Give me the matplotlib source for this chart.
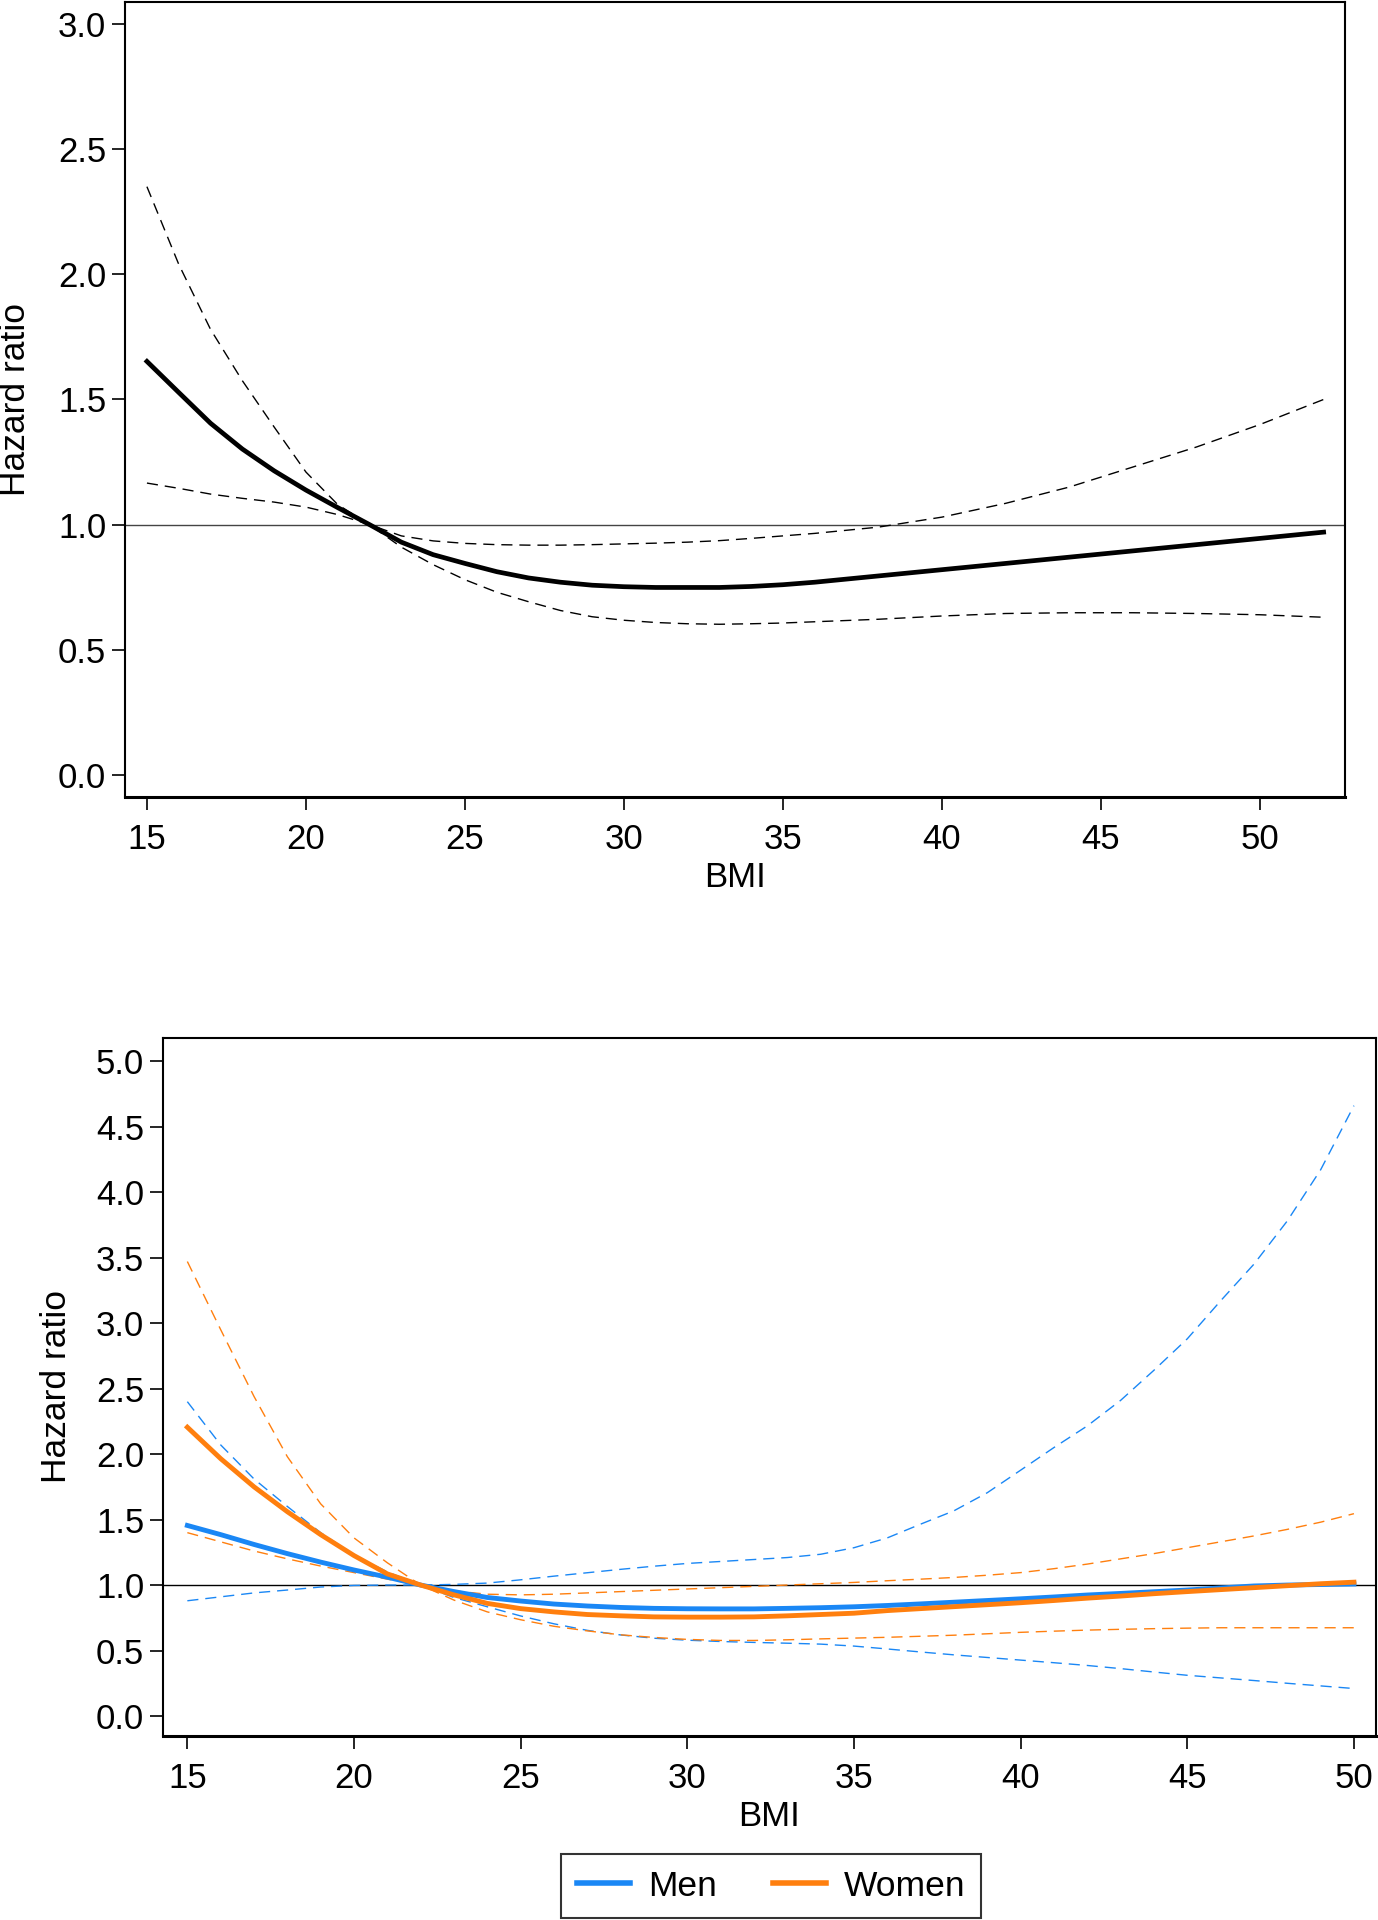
import numpy as np
import matplotlib
matplotlib.use("Agg")
import matplotlib.pyplot as plt
from matplotlib.lines import Line2D

plt.rcParams['font.family'] = ['Liberation Sans', 'DejaVu Sans']
plt.rcParams['font.size'] = 25

# ---- top panel: overall ----
bmi_top = [15, 16, 17, 18, 19, 20, 21, 22, 23, 24, 25, 26, 27, 28, 29, 30, 31, 32, 33, 34,
           35, 36, 38, 40, 42, 44, 46, 48, 50, 52]
hr_top = [1.652, 1.528, 1.405, 1.302, 1.215, 1.138, 1.068, 1.0, 0.93, 0.88, 0.845, 0.812,
          0.787, 0.77, 0.758, 0.752, 0.749, 0.749, 0.749, 0.753, 0.76, 0.77, 0.795, 0.82,
          0.845, 0.87, 0.895, 0.92, 0.945, 0.97]
# confidence band curves (they swap sides at the reference BMI 22)
ci1_top = [2.35, 2.04, 1.78, 1.575, 1.39, 1.21, 1.08, 1.0, 0.91, 0.84, 0.78, 0.73, 0.692,
           0.657, 0.632, 0.618, 0.609, 0.604, 0.602, 0.604, 0.607, 0.612, 0.622, 0.635, 0.645,
           0.648, 0.648, 0.645, 0.64, 0.63]
ci2_top = [1.166, 1.145, 1.122, 1.105, 1.09, 1.07, 1.04, 1.0, 0.955, 0.935, 0.925, 0.92,
           0.918, 0.918, 0.92, 0.923, 0.926, 0.93, 0.936, 0.945, 0.955, 0.965, 0.99, 1.03,
           1.085, 1.15, 1.23, 1.31, 1.40, 1.50]

# ---- bottom panel: by sex ----
bmi_sex = [15, 16, 17, 18, 19, 20, 21, 22, 23, 24, 25, 26, 27, 28, 29, 30, 31, 32, 33, 34,
           35, 36, 37, 38, 39, 40, 41, 42, 43, 44, 45, 46, 47, 48, 49, 50]
hr_men = [1.455, 1.385, 1.31, 1.24, 1.175, 1.115, 1.06, 1.0, 0.95, 0.905, 0.878, 0.855, 0.84,
          0.829, 0.822, 0.819, 0.818, 0.818, 0.822, 0.827, 0.834, 0.844, 0.856, 0.869, 0.882,
          0.895, 0.909, 0.924, 0.936, 0.949, 0.962, 0.978, 0.993, 1.0, 1.004, 1.008]
men_ci1 = [2.40, 2.07, 1.81, 1.60, 1.40, 1.23, 1.10, 1.0, 0.905, 0.834, 0.764, 0.704, 0.654,
           0.619, 0.594, 0.579, 0.569, 0.562, 0.556, 0.549, 0.534, 0.512, 0.489, 0.467, 0.447,
           0.427, 0.407, 0.386, 0.362, 0.336, 0.311, 0.291, 0.271, 0.25, 0.23, 0.21]
men_ci2 = [0.88, 0.91, 0.94, 0.962, 0.985, 0.997, 1.0, 1.0, 1.005, 1.015, 1.04, 1.068, 1.094,
           1.12, 1.144, 1.165, 1.18, 1.195, 1.21, 1.235, 1.285, 1.36, 1.465, 1.567, 1.705,
           1.877, 2.05, 2.215, 2.41, 2.64, 2.88, 3.17, 3.45, 3.78, 4.17, 4.66]
hr_women = [2.205, 1.965, 1.75, 1.56, 1.385, 1.225, 1.085, 1.0, 0.925, 0.86, 0.82, 0.795,
            0.775, 0.765, 0.757, 0.755, 0.755, 0.757, 0.765, 0.775, 0.785, 0.805, 0.82, 0.835,
            0.85, 0.865, 0.882, 0.9, 0.916, 0.934, 0.95, 0.965, 0.98, 0.995, 1.01, 1.022]
women_ci1 = [3.47, 2.95, 2.44, 1.98, 1.62, 1.36, 1.17, 1.0, 0.885, 0.795, 0.735, 0.685, 0.65,
             0.62, 0.6, 0.585, 0.577, 0.577, 0.582, 0.589, 0.595, 0.601, 0.609, 0.617, 0.628,
             0.639, 0.648, 0.656, 0.662, 0.667, 0.671, 0.674, 0.674, 0.674, 0.674, 0.674]
women_ci2 = [1.40, 1.33, 1.26, 1.20, 1.145, 1.095, 1.045, 1.0, 0.955, 0.93, 0.925, 0.93, 0.94,
             0.95, 0.96, 0.97, 0.98, 0.99, 1.0, 1.01, 1.02, 1.033, 1.045, 1.058, 1.075, 1.095,
             1.125, 1.16, 1.2, 1.24, 1.285, 1.33, 1.375, 1.425, 1.48, 1.545]

sex_labels = ['Men', 'Women']
blue = '#1a87f5'
orange = '#ff7f0e'

fig = plt.figure(figsize=(13.78, 19.2), dpi=100)


def style_axes(ax, ylabel_x, xlabel_y):
    for s in ax.spines.values():
        s.set_linewidth(1.5)
        s.set_color('black')
    ax.spines['bottom'].set_linewidth(2.2)
    ax.tick_params(axis='both', length=9.5, width=1.2, labelsize=25)
    ax.tick_params(axis='x', pad=9.5)
    ax.tick_params(axis='y', pad=4)
    ax.set_xlabel('BMI', fontsize=25)
    ax.set_ylabel('Hazard ratio', fontsize=25.5)
    ax.yaxis.set_label_coords(ylabel_x, 0.5)
    ax.xaxis.set_label_coords(0.5, xlabel_y)


# top panel
ax1 = fig.add_axes([0.0907, 0.5849, 0.8853, 0.4141])
ax1.axhline(1.0, color='#444444', lw=1.0, zorder=1)
ax1.plot(bmi_top, ci1_top, color='black', lw=1.0, dashes=(8, 5))
ax1.plot(bmi_top, ci2_top, color='black', lw=1.0, dashes=(8, 5))
ax1.plot(bmi_top, hr_top, color='black', lw=3.4)
ax1.set_xlim(14.31, 52.67)
ax1.set_ylim(-0.088, 3.088)
ax1.set_xticks(np.arange(15, 51, 5))
ax1.set_yticks(np.arange(0, 3.01, 0.5))
ax1.set_yticklabels(['%.1f' % v for v in np.arange(0, 3.01, 0.5)])
style_axes(ax1, -0.076, -0.081)

# bottom panel
ax2 = fig.add_axes([0.1183, 0.0958, 0.8802, 0.3638])
ax2.axhline(1.0, color='black', lw=1.0, zorder=1)
ax2.plot(bmi_sex, men_ci1, color=blue, lw=1.0, dashes=(8, 5))
ax2.plot(bmi_sex, men_ci2, color=blue, lw=1.0, dashes=(8, 5))
ax2.plot(bmi_sex, women_ci1, color=orange, lw=1.0, dashes=(8, 5))
ax2.plot(bmi_sex, women_ci2, color=orange, lw=1.0, dashes=(8, 5))
ax2.plot(bmi_sex, hr_men, color=blue, lw=3.5)
ax2.plot(bmi_sex, hr_women, color=orange, lw=3.5)
ax2.set_xlim(14.27, 50.66)
ax2.set_ylim(-0.153, 5.18)
ax2.set_xticks(np.arange(15, 51, 5))
ax2.set_yticks(np.arange(0, 5.01, 0.5))
ax2.set_yticklabels(['%.1f' % v for v in np.arange(0, 5.01, 0.5)])
style_axes(ax2, -0.074, -0.092)

handles = [Line2D([], [], color=blue, lw=4), Line2D([], [], color=orange, lw=4)]
leg = fig.legend(handles, sex_labels, loc='lower center', bbox_to_anchor=(0.5596, 0.0008),
                 borderaxespad=0, ncol=2, fontsize=25.5, frameon=True, fancybox=False,
                 edgecolor='black', handlelength=1.5, columnspacing=1.6, borderpad=0.45,
                 handletextpad=0.5)
leg.get_frame().set_linewidth(1.5)

fig.savefig('out.png', dpi=100)
